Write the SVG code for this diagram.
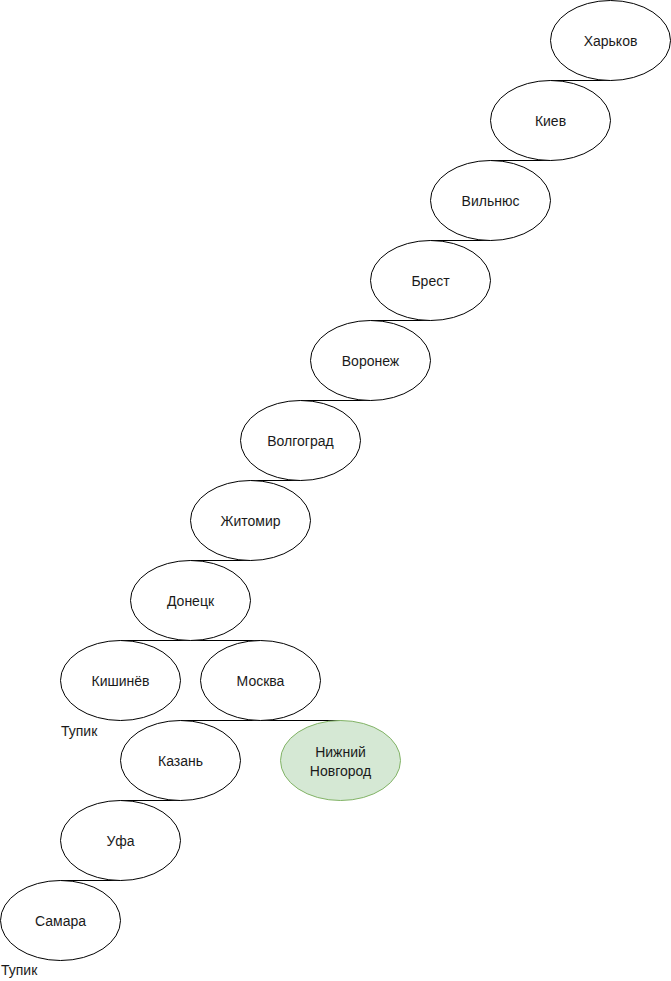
<svg xmlns="http://www.w3.org/2000/svg" width="671" height="981" viewBox="0 0 671 981">
  <style>
    .node ellipse { fill: #ffffff; stroke: #000000; stroke-width: 1; }
    .node.goal ellipse { fill: #d5e8d4; stroke: #82b366; }
    .node text, .note { font-family: "Liberation Sans", Arial, sans-serif; font-size: 14px; fill: #1a1a1a; }
    .node text { text-anchor: middle; dominant-baseline: central; }
    #connectors path { fill: none; stroke: #000000; stroke-width: 1; }
  </style>
  <rect width="671" height="981" fill="#ffffff"/>
  <g transform="translate(0.5,0.5)">
    <!-- connectors: horizontal joins from parent bottom to child top -->
    <g id="connectors">
      <path d="M610 80 H550"/>
      <path d="M550 160 H490"/>
      <path d="M490 240 H430"/>
      <path d="M430 320 H370"/>
      <path d="M370 400 H300"/>
      <path d="M300 480 H250"/>
      <path d="M250 560 H190"/>
      <path d="M190 640 H120"/>
      <path d="M190 640 H260"/>
      <path d="M260 720 H180"/>
      <path d="M260 720 H340"/>
      <path d="M180 800 H120"/>
      <path d="M120 880 H60"/>
    </g>
    <g id="kharkov" class="node"><ellipse cx="610" cy="40" rx="60" ry="40"/><text x="610" y="40">Харьков</text></g>
    <g id="kiev" class="node"><ellipse cx="550" cy="120" rx="60" ry="40"/><text x="550" y="120">Киев</text></g>
    <g id="vilnius" class="node"><ellipse cx="490" cy="200" rx="60" ry="40"/><text x="490" y="200">Вильнюс</text></g>
    <g id="brest" class="node"><ellipse cx="430" cy="280" rx="60" ry="40"/><text x="430" y="280">Брест</text></g>
    <g id="voronezh" class="node"><ellipse cx="370" cy="360" rx="60" ry="40"/><text x="370" y="360">Воронеж</text></g>
    <g id="volgograd" class="node"><ellipse cx="300" cy="440" rx="60" ry="40"/><text x="300" y="440">Волгоград</text></g>
    <g id="zhitomir" class="node"><ellipse cx="250" cy="520" rx="60" ry="40"/><text x="250" y="520">Житомир</text></g>
    <g id="donetsk" class="node"><ellipse cx="190" cy="600" rx="60" ry="40"/><text x="190" y="600">Донецк</text></g>
    <g id="kishinev" class="node"><ellipse cx="120" cy="680" rx="60" ry="40"/><text x="120" y="680">Кишинёв</text></g>
    <g id="moskva" class="node"><ellipse cx="260" cy="680" rx="60" ry="40"/><text x="260" y="680">Москва</text></g>
    <g id="kazan" class="node"><ellipse cx="180" cy="760" rx="60" ry="40"/><text x="180" y="760">Казань</text></g>
    <g id="nizhny" class="node goal"><ellipse cx="340" cy="760" rx="60" ry="40"/><text x="340" y="751">Нижний</text><text x="340" y="770">Новгород</text></g>
    <g id="ufa" class="node"><ellipse cx="120" cy="840" rx="60" ry="40"/><text x="120" y="840">Уфа</text></g>
    <g id="samara" class="node"><ellipse cx="60" cy="920" rx="60" ry="40"/><text x="60" y="920">Самара</text></g>
  </g>
  <text class="note" x="61" y="736">Тупик</text>
  <text class="note" x="1" y="975">Тупик</text>
</svg>
